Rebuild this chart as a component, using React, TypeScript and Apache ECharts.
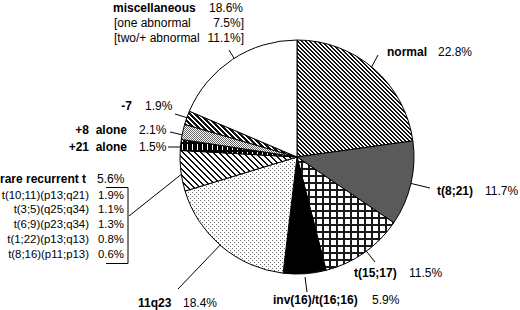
import React, { useEffect, useRef } from "react";
import * as echarts from "echarts";

const names = ["normal", "t(8;21)", "t(15;17)", "inv(16)/t(16;16)", "11q23", "rare recurrent t", "+21  alone", "+8  alone", "-7", "miscellaneous"];
const values = [22.8, 11.7, 11.5, 5.9, 18.4, 5.6, 1.5, 2.1, 1.9, 18.6];
const rareNames = ["t(10;11)(p13;q21)", "t(3;5)(q25;q34)", "t(6;9)(p23;q34)", "t(1;22)(p13;q13)", "t(8;16)(p11;p13)"];
const rareValues = [1.9, 1.1, 1.3, 0.8, 0.6];
const miscNames = ["[one abnormal", "[two/+ abnormal"];
const miscValues = [7.5, 11.1];

const FONT = '"Liberation Sans", Arial, sans-serif';

type PixFn = (x: number, y: number) => string | null;
function makeTile(w: number, h: number, bg: string, fn: PixFn) {
  const c = document.createElement("canvas");
  c.width = w;
  c.height = h;
  const ctx = c.getContext("2d")!;
  ctx.fillStyle = bg;
  ctx.fillRect(0, 0, w, h);
  for (let y = 0; y < h; y++) {
    for (let x = 0; x < w; x++) {
      const col = fn(x, y);
      if (col) {
        ctx.fillStyle = col;
        ctx.fillRect(x, y, 1, 1);
      }
    }
  }
  return { image: c as any, repeat: "repeat", imageWidth: w, imageHeight: h } as any;
}
const mod = (a: number, m: number) => ((a % m) + m) % m;

function buildFills(): any[] {
  return [
    makeTile(4, 4, "#fff", (x, y) => (mod(x - y, 4) < 2 ? "#111" : null)),
    "#5a5a5a",
    makeTile(7, 7, "#fff", (x, y) => (x < 2 || y < 2 ? "#1a1a1a" : null)),
    "#000",
    makeTile(4, 4, "#fff", (x, y) => ((x === 0 && y === 0) || (x === 2 && y === 2) ? "#666" : null)),
    makeTile(6, 6, "#fff", (x, y) => (mod(x - y, 6) < 2 ? "#111" : null)),
    makeTile(5, 8, "#000", (x, y) => (x === 2 && y < 6 ? "#fff" : null)),
    makeTile(2, 2, "#fff", (x, y) => (x === y ? "#666" : null)),
    makeTile(5, 5, "#fff", (x, y) => (mod(x - y, 5) < 3 ? "#111" : null)),
    "#fff",
  ];
}

// label layout: name anchor, percent anchor, y, leader line
const labelPos = [
  { nx: 387, na: "left", px: 438, pa: "left", y: 52, line: [370, 70, 378, 55] },
  { nx: 437, na: "left", px: 485, pa: "left", y: 191, line: [405, 182, 430, 188] },
  { nx: 354, na: "left", px: 409, pa: "left", y: 273, line: [363, 247, 375, 262] },
  { nx: 273, na: "left", px: 372, pa: "left", y: 300, line: [305, 277, 307, 292] },
  { nx: 138, na: "left", px: 183, pa: "left", y: 303, line: [225, 240, 178, 289] },
  { nx: 0, na: "left", px: 97, pa: "left", y: 179, line: [129, 216, 183, 173] },
  { nx: 127, na: "right", px: 139, pa: "left", y: 147, line: [168, 147, 180, 147] },
  { nx: 127, na: "right", px: 139, pa: "left", y: 130, line: [170, 132, 183, 135] },
  { nx: 132, na: "right", px: 145, pa: "left", y: 106, line: [175, 114, 188, 118] },
  { nx: 113, na: "left", px: 243, pa: "right", y: 8, line: [229, 50, 237, 63] },
];

function txt(text: string, x: number, y: number, align: string, bold: boolean, size = 12) {
  return {
    type: "text",
    x,
    y,
    silent: true,
    style: {
      text,
      fill: "#000",
      font: `${bold ? "bold " : ""}${size}px ${FONT}`,
      fontSize: size,
      fontWeight: bold ? "bold" : "normal",
      fontFamily: FONT,
      align,
      textAlign: align,
      verticalAlign: "middle",
      textVerticalAlign: "middle",
    },
  };
}
function ln(x1: number, y1: number, x2: number, y2: number) {
  return { type: "line", silent: true, shape: { x1, y1, x2, y2 }, style: { stroke: "#000", lineWidth: 1 } };
}

export default function App() {
  const ref = useRef<HTMLDivElement>(null);
  useEffect(() => {
    document.body.style.margin = "0";
    const chart = echarts.init(ref.current!, null, { renderer: "svg" });
    const fills = buildFills();
    const graphics: any[] = [];
    labelPos.forEach((p, i) => {
      graphics.push(txt(names[i], p.nx, p.y, p.na, true));
      graphics.push(txt(values[i].toFixed(1) + "%", p.px, p.y, p.pa, false));
      graphics.push(ln(p.line[0], p.line[1], p.line[2], p.line[3]));
    });
    miscNames.forEach((n, i) => {
      const y = 23 + i * 15;
      graphics.push(txt(n, 114, y, "left", false));
      graphics.push(txt(miscValues[i].toFixed(1) + "%]", 244, y, "right", false));
    });
    rareNames.forEach((n, i) => {
      const y = 194.5 + i * 14.8;
      graphics.push(txt(n, 89, y, "right", false, 11.4));
      graphics.push(txt(rareValues[i].toFixed(1) + "%", 124, y, "right", false, 11.4));
    });
    graphics.push({
      type: "polyline",
      silent: true,
      shape: { points: [[106, 187.5], [128, 187.5], [128, 263.5], [106, 263.5]] },
      style: { stroke: "#000", lineWidth: 1, fill: null },
    });

    chart.setOption({
      animation: false,
      backgroundColor: "#fff",
      series: [
        {
          type: "pie",
          center: [297, 157],
          radius: 117,
          startAngle: 90,
          clockwise: true,
          silent: true,
          label: { show: false },
          labelLine: { show: false },
          itemStyle: { borderColor: "#000", borderWidth: 1 },
          data: values.map((v, i) => ({ name: names[i], value: v, itemStyle: { color: fills[i] } })),
        },
      ],
      graphic: graphics,
    });
    return () => chart.dispose();
  }, []);
  return <div ref={ref} style={{ width: 520, height: 310 }} />;
}
